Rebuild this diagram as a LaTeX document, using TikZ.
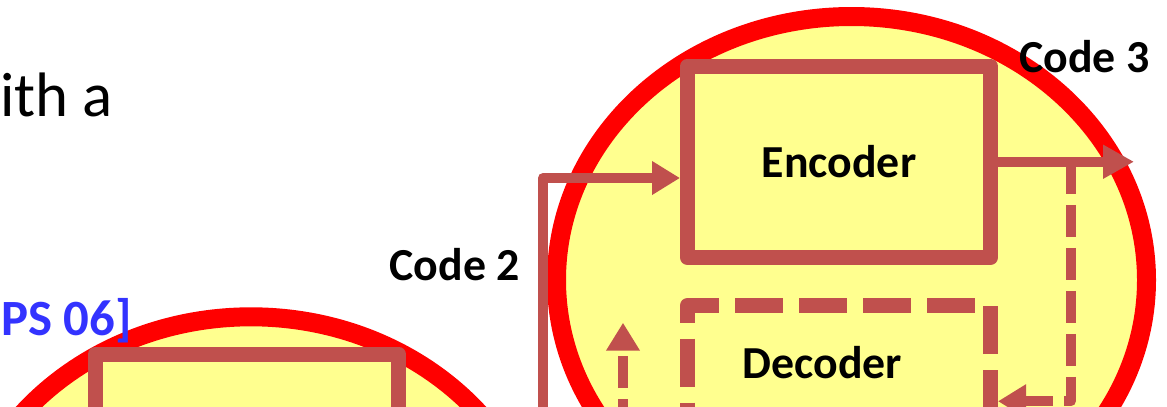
\documentclass[tikz,border=0pt]{standalone}
\usepackage{fontspec}
\setmainfont{Carlito}
\usetikzlibrary{positioning}
\usetikzlibrary{arrows.meta}

\definecolor{brick}{HTML}{C0504D}
\definecolor{pale}{HTML}{FFFF8F}
\definecolor{refblue}{HTML}{3333FF}

\tikzset{
  ring/.style={draw=red, fill=pale, line width=19bp},
  block/.style={draw=brick, fill=pale, line width=15bp, line join=round,
    minimum width=303bp, minimum height=191.5bp, inner sep=0pt,
    font=\fontsize{46}{55}\selectfont\bfseries},
  flow/.style={draw=brick, line width=10bp, line join=round,
    -{Triangle[length=28bp,width=32bp]}},
  dashflow/.style={flow, dash pattern=on 32bp off 11bp},
  lbl/.style={inner sep=0pt, font=\fontsize{46}{55}\selectfont\bfseries},
}

\begin{document}
\begin{tikzpicture}[x=1bp, y=-1bp]
  \clip (0,0) rectangle (1167,406);

  % the two units
  \draw[ring] (251,580.3) ellipse [x radius=295, y radius=263.5];
  \draw[ring] (851.5,280) ellipse [x radius=295, y radius=263.5];

  \node[inner sep=0pt, anchor=base west, font=\fontsize{63}{75}\selectfont] (head) at (0,116) {ith a};
  \node[lbl, anchor=base west, text=refblue, font=\fontsize{51}{60}\selectfont\bfseries] (cite) at (1,335) {PS 06]};

  % blocks
  \node[block] (blk) at (247,449.75) {};
  \node[block] (enc) at (839,161.75) {Encoder};
  \node[block, below=33bp of enc, dash pattern=on 48bp off 16bp, dash phase=1.5bp] (dec) {};
  \node[lbl, anchor=base] (dectxt) at (822.5,378) {Decoder};

  \node[lbl, anchor=base west] (code2) at (389.5,280) {Code 2};
  \node[lbl, anchor=base west] (code3) at (1019,72) {Code 3};

  % connections
  \coordinate (in) at (543,440);
  \coordinate (out) at (1134,161.75);
  \coordinate (tap) at (1071,161.75);
  \coordinate (fb) at (623,474);
  \coordinate (fbtip) at (623,322.7);

  \draw[flow] (in) |- ([yshift=-16.25bp]enc.west);
  \draw[dashflow] (tap) |- (dec.east);
  \draw[flow, -{Triangle[length=31bp,width=32bp]}] (enc.east) -- (out);
  \draw[dashflow] (fb) -- (fbtip);
\end{tikzpicture}
\end{document}
